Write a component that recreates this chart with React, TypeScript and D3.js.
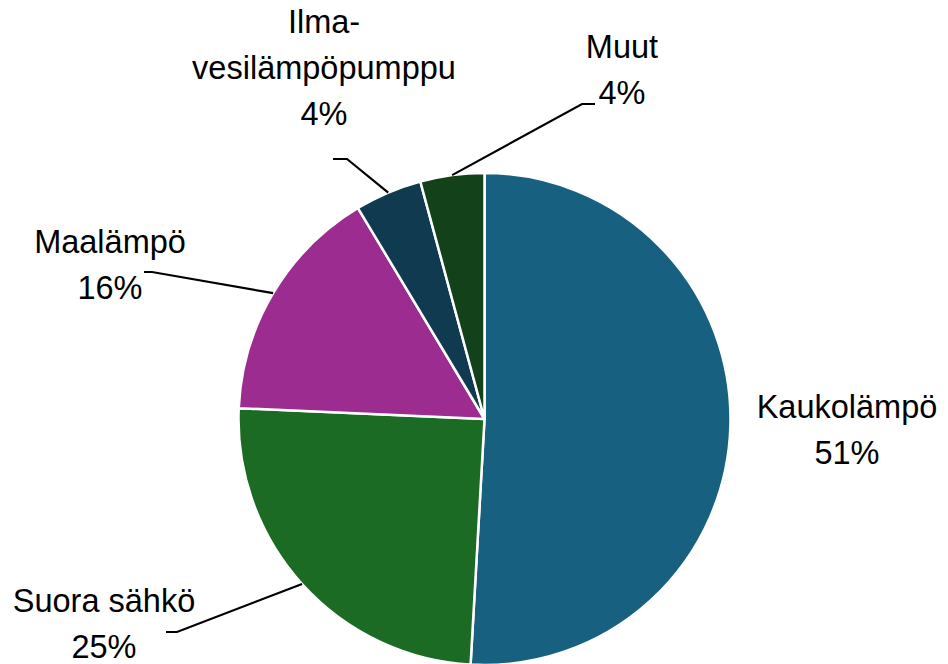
import React from "react";
import * as d3 from "d3";

const categories = ["Kaukolämpö", "Suora sähkö", "Maalämpö", "Ilma-vesilämpöpumppu", "Muut"];
const values = [50.9, 24.8, 15.7, 4.4, 4.2];
const percentLabels = ["51%", "25%", "16%", "4%", "4%"];
const labelLines = [["Kaukolämpö"], ["Suora sähkö"], ["Maalämpö"], ["Ilma-", "vesilämpöpumppu"], ["Muut"]];
const colors = ["#17607F", "#1C6B25", "#9D2C90", "#0F3A50", "#12411A"];

// label layout (center x, first baseline), leader elbow points (null = no leader)
const labelPos = [
  { x: 847, y: 418 },
  { x: 104, y: 612 },
  { x: 110, y: 253 },
  { x: 324, y: 33 },
  { x: 622, y: 58 },
];
const leaderElbow: ([number, number, number] | null)[] = [
  null,
  [177, 632, 166],
  [152, 272, 144],
  [347, 159, 333],
  [582, 104, 595],
];

const W = 948;
const H = 664;
const cx = 484.5;
const cy = 419;
const R = 246;
const lineGap = 46;

export default function App() {
  const pie = d3.pie<number>().sort(null).value((d) => d)(values);
  const arc = d3.arc<d3.PieArcDatum<number>>().innerRadius(0).outerRadius(R);
  return (
    <svg
      width={W}
      height={H}
      style={{ position: "absolute", left: 0, top: 0, display: "block", background: "#fff" }}
      fontFamily="'Liberation Sans', Arial, sans-serif"
    >
      <g transform={`translate(${cx},${cy})`}>
        {pie.map((p, i) => (
          <path key={i} d={arc(p) || ""} fill={colors[i]} stroke="#fff" strokeWidth={2.5} strokeLinejoin="round" />
        ))}
      </g>
      {pie.map((p, i) => {
        const e = leaderElbow[i];
        if (!e) return null;
        const mid = (p.startAngle + p.endAngle) / 2;
        const sx = cx + Math.sin(mid) * R;
        const sy = cy - Math.cos(mid) * R;
        return (
          <polyline
            key={"l" + i}
            points={`${sx},${sy} ${e[0]},${e[1]} ${e[2]},${e[1]}`}
            fill="none"
            stroke="#000"
            strokeWidth={2.2}
          />
        );
      })}
      {categories.map((c, i) => {
        const lines = [...labelLines[i], percentLabels[i]];
        return (
          <text key={"t" + c} x={labelPos[i].x} y={labelPos[i].y} textAnchor="middle" fontSize={32.5} fill="#000">
            {lines.map((ln, j) => (
              <tspan key={j} x={labelPos[i].x} y={labelPos[i].y + j * lineGap}>
                {ln}
              </tspan>
            ))}
          </text>
        );
      })}
    </svg>
  );
}
